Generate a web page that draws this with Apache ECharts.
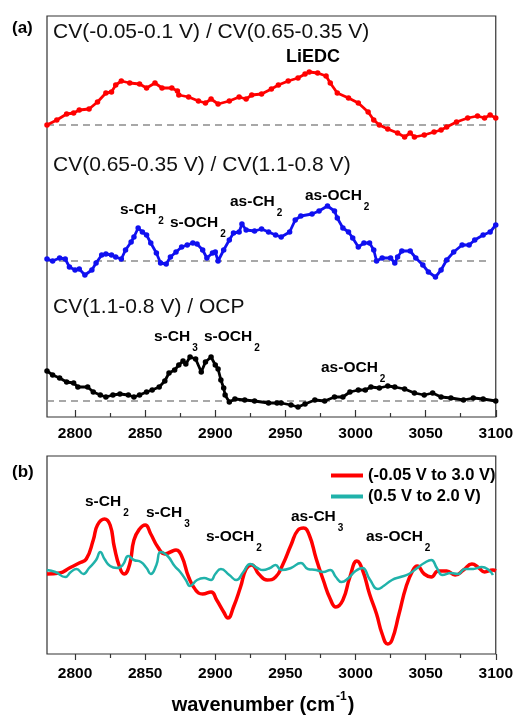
<!DOCTYPE html>
<html>
<head>
<meta charset="utf-8">
<title>FTIR difference spectra</title>
<script src="https://cdn.jsdelivr.net/npm/echarts@6.0.0/dist/echarts.min.js"></script>
<style>
  html, body { margin: 0; padding: 0; background: #fff; }
  #chart { width: 516px; height: 715px; }
</style>
</head>
<body>
<div id="chart"></div>
<script>
// ---- data (wavenumber in cm-1, intensity in arbitrary units) ----
const tickValues = [2800, 2850, 2900, 2950, 3000, 3050, 3100]
const minorTickValues = [2825, 2875, 2925, 2975, 3025, 3075]

// panel (a): offsets of each stacked trace
const aOffsets = [292, 156, 16]

const aRedWn = [2780,2787,2794,2799,2803,2810,2816,2822,2826,2829,2833,2839,2846,2851,2857,2862,2869,2873,2874,2881,2888,2893,2897,2902,2910,2917,2922,2926,2933,2940,2945,2952,2959,2964,2967,2973,2979,2982,2987,2995,3002,3009,3013,3017,3023,3030,3035,3039,3042,3049,3056,3061,3065,3072,3080,3087,3092,3096,3100]
const aRedVal = [0,5,11,12,15,16,23,32,33,40,44,42,41,37,42,37,37,34,30,28,24,22,26,21,24,28,26,30,31,36,40,44,47,51,53,52,49,42,32,27,22,13,5,0,-4,-8,-12,-8,-12,-10,-7,-5,-2,3,7,9,7,10,7]

const aBlueWn = [2780,2784,2789,2793,2796,2800,2803,2807,2812,2815,2819,2822,2826,2829,2833,2836,2840,2842,2845,2848,2851,2854,2858,2861,2865,2868,2872,2876,2880,2884,2887,2891,2894,2898,2900,2902,2906,2910,2913,2917,2919,2922,2928,2933,2938,2943,2947,2953,2957,2961,2969,2974,2980,2985,2987,2991,2995,2998,3002,3006,3010,3013,3015,3019,3025,3028,3030,3033,3039,3043,3048,3052,3057,3061,3065,3070,3076,3081,3085,3091,3096,3100]
const aBlueVal = [2,0,3,2,-6,-9,-8,-14,-9,-2,6,7,6,4,2,11,19,24,33,29,26,18,8,-2,-3,4,9,14,16,18,17,11,3,8,9,0,11,21,28,29,37,31,30,32,29,26,24,29,41,45,47,50,55,50,43,33,29,23,14,18,18,11,0,3,3,-2,4,10,10,3,-4,-11,-16,-9,1,9,16,16,21,26,29,36]

const aBlackWn = [2780,2784,2789,2794,2799,2802,2809,2813,2818,2822,2827,2832,2838,2842,2846,2851,2855,2860,2864,2867,2871,2874,2877,2879,2882,2886,2890,2893,2897,2900,2902,2904,2906,2907,2910,2914,2921,2928,2938,2944,2947,2954,2959,2964,2971,2978,2985,2991,2996,3002,3007,3011,3017,3023,3028,3035,3042,3049,3055,3061,3068,3077,3084,3091,3100]
const aBlackVal = [30,26,23,19,18,14,14,9,6,4,6,7,6,4,6,9,11,14,20,28,31,36,40,37,44,42,29,39,44,36,32,21,13,6,-1,2,1,0,-2,-2,-2,-4,-6,-3,1,0,4,4,9,11,11,14,13,15,14,12,8,6,8,4,3,1,3,2,0]

// panel (b)
const bRedWn = [2780,2789,2796,2803,2808,2813,2816,2821,2825,2828,2832,2835,2839,2842,2846,2850,2854,2859,2864,2868,2872,2876,2881,2886,2891,2897,2901,2906,2909,2913,2918,2922,2926,2931,2937,2943,2948,2954,2959,2963,2967,2972,2977,2982,2986,2991,2996,3001,3005,3010,3015,3019,3023,3026,3031,3036,3041,3044,3049,3054,3059,3065,3071,3077,3083,3088,3092,3098,3100]
const bRedVal = [-2,-1,4,9,13,32,47,53,47,25,4,-2,8,32,43,47,38,25,18,20,22,16,-5,-18,-22,-20,-28,-40,-46,-35,-15,3,7,-2,-8,-5,7,27,42,44,37,13,-8,-27,-35,-28,-5,11,2,-22,-42,-62,-72,-68,-42,-15,2,6,-2,-5,1,1,-3,2,8,4,0,2,1]

const bTealWn = [2780,2786,2793,2797,2801,2806,2810,2815,2818,2821,2825,2830,2834,2838,2842,2847,2851,2854,2858,2861,2866,2871,2875,2879,2882,2887,2892,2897,2900,2904,2910,2915,2920,2925,2930,2934,2939,2943,2947,2954,2961,2966,2972,2977,2982,2986,2990,2995,3000,3005,3010,3016,3020,3026,3032,3038,3044,3049,3054,3058,3062,3068,3073,3078,3084,3090,3095,3098]
const bTealVal = [2,0,-5,0,3,-2,4,12,20,13,6,4,7,16,12,10,4,-2,7,20,16,6,0,-8,-14,-8,-6,-8,-2,3,-3,-8,0,8,4,2,4,7,2,4,9,3,2,0,2,-5,-10,-6,1,4,-7,-17,-14,-8,-5,-2,4,9,12,4,-3,-1,-2,3,3,5,2,-3]

const legendNames = ['(-0.05 V to 3.0 V)', '(0.5 V to 2.0 V)']

// ---- helpers ----
const FONT = '"Liberation Sans", Arial, sans-serif'
const ctx = document.createElement('canvas').getContext('2d')
const textWidth = (s, size, weight) => {
  ctx.font = `${weight} ${size}px ${FONT}`
  return ctx.measureText(s).width
}
const txt = (x, y, s, size, weight = 'bold', color = '#000') => ({
  type: 'text', x, y, silent: true, z: 10,
  style: { text: s, fontSize: size, fontWeight: weight, fontFamily: FONT, fill: color, verticalAlign: 'middle' }
})
// label with a subscript placed just after it
const chem = (x, y, main, sub, size = 15.5) => [
  txt(x, y, main, size),
  txt(x + textWidth(main, size, 'bold') + 2, y + 11, sub, 10)
]

const dotted = (wn, val, off, color) => ({
  type: 'line', xAxisIndex: 0, yAxisIndex: 0, z: 3,
  data: wn.map((w, i) => [w, val[i] + off]),
  symbol: 'circle', symbolSize: 5.5, showAllSymbol: true,
  itemStyle: { color },
  lineStyle: { color, width: 2.8 }
})

const baseline = (off) => ({
  type: 'line', xAxisIndex: 0, yAxisIndex: 0, z: 1, silent: true,
  data: [[2780, off], [3094, off]],
  symbol: 'none',
  lineStyle: { color: '#8c8c8c', width: 1.3, type: [7, 5] }
})

const tickAxis = (gridIndex, values, len, inside, labels, margin) => ({
  gridIndex, type: 'value', min: 2780, max: 3100, position: 'bottom',
  axisLine: { show: false, onZero: false },
  splitLine: { show: false },
  axisTick: { show: true, inside, length: len, customValues: values, lineStyle: { color: '#333', width: 1.2 } },
  axisLabel: labels
    ? { show: true, customValues: values, margin, fontSize: 15.5, fontWeight: 'bold', color: '#000', fontFamily: FONT, formatter: v => String(v) }
    : { show: false }
})

// axis title with superscript
const axisTitle = () => {
  const size = 20
  const a = 'wavenumber (cm', s = '-1', b = ')'
  const wa = textWidth(a, size, 'bold'), ws = textWidth(s, 12, 'bold'), wb = textWidth(b, size, 'bold')
  const x0 = 263 - (wa + ws + wb + 2) / 2
  return [
    txt(x0, 705, a, size),
    txt(x0 + wa + 1, 697, s, 12),
    txt(x0 + wa + ws + 2, 705, b, size)
  ]
}

const chart = echarts.init(document.getElementById('chart'))

chart.setOption({
  animation: false,
  textStyle: { fontFamily: FONT },
  grid: [
    { left: 47, top: 16, width: 452, height: 401, show: true, borderColor: '#333', borderWidth: 1.2, backgroundColor: 'transparent' },
    { left: 47, top: 456, width: 452, height: 198, show: true, borderColor: '#333', borderWidth: 1.2, backgroundColor: 'transparent' }
  ],
  xAxis: [
    tickAxis(0, tickValues, 7, true, true, 9),
    tickAxis(0, minorTickValues, 4, true, false),
    tickAxis(1, tickValues, 6, false, true, 12),
    tickAxis(1, minorTickValues, 4, false, false)
  ],
  yAxis: [
    { gridIndex: 0, type: 'value', min: 0, max: 401, show: false },
    { gridIndex: 1, type: 'value', min: -82, max: 116, show: false }
  ],
  legend: {
    left: 326, top: 462, orient: 'vertical',
    itemWidth: 32, itemHeight: 4, itemGap: 4, icon: 'rect',
    data: legendNames,
    textStyle: { fontSize: 16.5, fontWeight: 'bold', color: '#000', fontFamily: FONT }
  },
  series: [
    baseline(aOffsets[0]),
    baseline(aOffsets[1]),
    baseline(aOffsets[2]),
    dotted(aRedWn, aRedVal, aOffsets[0], '#ff0000'),
    dotted(aBlueWn, aBlueVal, aOffsets[1], '#1010f0'),
    dotted(aBlackWn, aBlackVal, aOffsets[2], '#000000'),
    {
      name: legendNames[0], type: 'line', xAxisIndex: 2, yAxisIndex: 1, z: 3,
      data: bRedWn.map((w, i) => [w, bRedVal[i]]),
      smooth: true, symbol: 'none',
      itemStyle: { color: '#ff0000' },
      lineStyle: { color: '#ff0000', width: 3.5 }
    },
    {
      name: legendNames[1], type: 'line', xAxisIndex: 2, yAxisIndex: 1, z: 4,
      data: bTealWn.map((w, i) => [w, bTealVal[i]]),
      smooth: true, symbol: 'none',
      itemStyle: { color: '#20b2aa' },
      lineStyle: { color: '#20b2aa', width: 2.5 }
    }
  ],
  graphic: [
    txt(12, 28, '(a)', 17),
    txt(12, 472, '(b)', 17),
    txt(53, 32, 'CV(-0.05-0.1 V) / CV(0.65-0.35 V)', 21, 'normal', '#111'),
    txt(53, 165, 'CV(0.65-0.35 V) / CV(1.1-0.8 V)', 21, 'normal', '#111'),
    txt(53, 307, 'CV(1.1-0.8 V) / OCP', 21, 'normal', '#111'),
    txt(286, 57, 'LiEDC', 18),
    ...chem(120, 210, 's-CH', '2'),
    ...chem(170, 223, 's-OCH', '2'),
    ...chem(230, 202, 'as-CH', '2'),
    ...chem(305, 196, 'as-OCH', '2'),
    ...chem(154, 337, 's-CH', '3'),
    ...chem(204, 337, 's-OCH', '2'),
    ...chem(321, 368, 'as-OCH', '2'),
    ...chem(85, 502, 's-CH', '2'),
    ...chem(146, 513, 's-CH', '3'),
    ...chem(206, 537, 's-OCH', '2'),
    ...chem(291, 517, 'as-CH', '3'),
    ...chem(366, 537, 'as-OCH', '2'),
    ...axisTitle()
  ]
})
</script>
</body>
</html>
